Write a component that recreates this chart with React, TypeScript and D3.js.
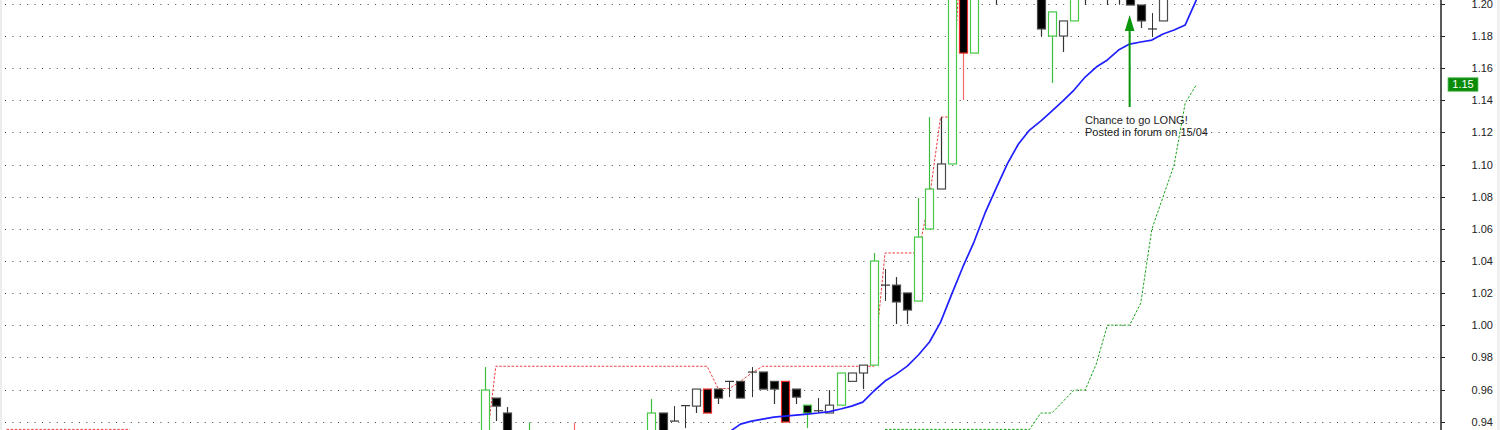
import React from "react";
import * as d3 from "d3";

// candles visible in the window: [bar, open, high, low, close, edge colour]
// bar numbers count from the tall green bar at the left (bar 0)
const candles: [number, number, number, number, number, string][] = [
  [0, 0.925, 0.974, 0.92, 0.9597, "g"],
  [1, 0.9547, 0.9547, 0.9404, 0.9497, "k"],
  [2, 0.9454, 0.9491, 0.925, 0.93, "k"],
  [4, 0.928, 0.9395, 0.925, 0.934, "g"],
  [8, 0.934, 0.9392, 0.922, 0.926, "r"],
  [15, 0.93, 0.9541, 0.928, 0.9454, "g"],
  [16, 0.9454, 0.9454, 0.928, 0.93, "k"],
  [17, 0.9404, 0.9497, 0.9404, 0.9404, "k"],
  [18, 0.95, 0.95, 0.936, 0.95, "k"],
  [19, 0.9497, 0.9603, 0.9454, 0.9603, "k"],
  [20, 0.9603, 0.9603, 0.9454, 0.9454, "r"],
  [21, 0.9603, 0.9603, 0.951, 0.9547, "k"],
  [22, 0.9651, 0.9651, 0.9553, 0.9651, "k"],
  [23, 0.9651, 0.9651, 0.9547, 0.9547, "k"],
  [24, 0.9709, 0.974, 0.9553, 0.9709, "k"],
  [25, 0.9709, 0.9709, 0.9603, 0.9603, "k"],
  [26, 0.9651, 0.9651, 0.951, 0.9603, "k"],
  [27, 0.9651, 0.9651, 0.9398, 0.9398, "r"],
  [28, 0.9603, 0.9603, 0.951, 0.9553, "k"],
  [29, 0.9503, 0.9503, 0.936, 0.9454, "g"],
  [30, 0.9468, 0.9547, 0.9454, 0.9468, "k"],
  [31, 0.9454, 0.9597, 0.9454, 0.9503, "k"],
  [32, 0.9503, 0.9703, 0.9503, 0.9703, "g"],
  [33, 0.9651, 0.9703, 0.9651, 0.9703, "k"],
  [34, 0.9703, 0.9752, 0.9603, 0.9752, "k"],
  [35, 0.9752, 1.045, 0.9752, 1.04, "g"],
  [36, 1.025, 1.035, 1.0151, 1.025, "k"],
  [37, 1.025, 1.03, 1.0008, 1.0145, "k"],
  [38, 1.0201, 1.0201, 1.0008, 1.0095, "k"],
  [39, 1.0151, 1.0792, 1.0151, 1.0549, "g"],
  [40, 1.0599, 1.1296, 1.0599, 1.0848, "g"],
  [41, 1.0848, 1.1296, 1.0848, 1.1004, "k"],
  [42, 1.1004, 1.26, 1.1004, 1.235, "g"],
  [43, 1.23, 1.235, 1.1402, 1.1694, "r"],
  [44, 1.1694, 1.23, 1.1694, 1.225, "g"],
  [46, 1.215, 1.22, 1.1995, 1.21, "k"],
  [50, 1.215, 1.22, 1.18, 1.1844, "k"],
  [51, 1.18, 1.195, 1.1508, 1.195, "g"],
  [52, 1.18, 1.1894, 1.1701, 1.1894, "k"],
  [53, 1.1894, 1.215, 1.1894, 1.21, "g"],
  [54, 1.21, 1.22, 1.1993, 1.215, "k"],
  [56, 1.21, 1.22, 1.1993, 1.215, "k"],
  [57, 1.21, 1.22, 1.1995, 1.215, "k"],
  [58, 1.212, 1.215, 1.1993, 1.1993, "k"],
  [59, 1.1993, 1.1993, 1.185, 1.1894, "k"],
  [60, 1.1844, 1.1943, 1.1794, 1.1844, "k"],
  [61, 1.1894, 1.21, 1.1894, 1.205, "k"],
];

// blue moving average, from bar 22 on
const maStart = 22;
const maValues = [
  0.9336, 0.9385, 0.9404, 0.9416, 0.9429, 0.9435, 0.9441, 0.9447, 0.9454,
  0.9463, 0.9479, 0.9497, 0.9522, 0.9591, 0.9653, 0.9696, 0.9746, 0.9815,
  0.9896, 1.002, 1.0194, 1.0363, 1.0518, 1.0699, 1.0854, 1.1004, 1.1128,
  1.1215, 1.1271, 1.1333, 1.1396, 1.1464, 1.1545, 1.1607, 1.1651, 1.1713,
  1.175, 1.1763, 1.1775, 1.1813, 1.1838, 1.1869, 1.2025,
];

// red dotted stop (above price): [bar, value]
const shortStop: [number, number][] = [
  [-43, 0.9352], [-42, 0.9352], [-41, 0.9352], [-40, 0.9352], [-39, 0.9352],
  [-38, 0.9352], [-37, 0.9352], [-36, 0.9352], [-35, 0.9352], [-34, 0.9352],
  [-33, 0.9352], [-32, 0.9352], [-31, 0.93], [0, 0.917],
  [1, 0.9745], [5, 0.9745], [10, 0.9745], [15, 0.9745], [20, 0.9745],
  [21, 0.9606], [22, 0.9606], [23, 0.9651], [24, 0.9703], [25, 0.9745],
  [30, 0.9745], [35, 0.9745], [36, 1.045], [37, 1.045], [38, 1.045],
  [39, 1.045], [40, 1.0792], [41, 1.1296], [42, 1.1296], [43, 1.26],
];

// green dotted stop (below price), from bar 36 on
const longStart = 36;
const longStop = [
  0.9352, 0.9352, 0.9352, 0.9352, 0.9352, 0.9352, 0.9352, 0.9352, 0.9352,
  0.9352, 0.9352, 0.9352, 0.9352, 0.9352, 0.9454, 0.9454, 0.9525, 0.9597,
  0.9597, 0.9759, 1.0001, 1.0001, 1.0001, 1.0138, 1.0599, 1.0798, 1.0998,
  1.1384, 1.1496,
];

const yTicks = [
  0.94, 0.96, 0.98, 1.0, 1.02, 1.04, 1.06, 1.08, 1.1, 1.12, 1.14, 1.16, 1.18,
  1.2,
];
const lastLabel = 1.15;
const noteLines = ["Chance to go LONG!", "Posted in forum on 15/04"];
const noteBar = 58;

const W = 1500;
const H = 430;
const plotLeft = 5;
const axisX = 1441;
const font = "'Liberation Sans', Arial, sans-serif";

const edgeColour: Record<string, string> = {
  g: "#45c845",
  r: "#ee2a2a",
  k: "#4a4a4a",
};
const wickColour: Record<string, string> = {
  g: "#3cbc3c",
  r: "#f46a6a",
  k: "#333",
};

export default function App() {
  const x = d3.scaleLinear().domain([0, 61]).range([484.7, 1163]);
  const y = d3.scaleLinear().domain([0.94, 1.2]).range([421.7, 3.9]);

  const line = d3
    .line<[number, number]>()
    .x((d) => x(d[0]))
    .y((d) => y(d[1]));

  const maPts: [number, number][] = maValues.map((v, i) => [maStart + i, v]);
  const longPts: [number, number][] = longStop.map((v, i) => [longStart + i, v]);

  return (
    <div style={{ position: "absolute", left: 0, top: 0 }}>
      <svg width={W} height={H} style={{ display: "block", background: "#fff" }}>
        <defs>
          <clipPath id="plot">
            <rect x={plotLeft} y={0} width={axisX - plotLeft} height={H} />
          </clipPath>
        </defs>
        <rect x={0} y={0} width={2} height={H} fill="#ececec" />
        <rect x={1497} y={0} width={3} height={H} fill="#f0f0f0" />

        {/* dotted grid */}
        {yTicks.map((t) => (
          <line
            key={"g" + t}
            x1={plotLeft}
            x2={axisX - 2}
            y1={Math.round(y(t)) + 0.5}
            y2={Math.round(y(t)) + 0.5}
            stroke="#444"
            strokeWidth={1}
            strokeDasharray="1,6.4"
          />
        ))}

        <g clipPath="url(#plot)">
          <path
            d={line(shortStop) || ""}
            fill="none"
            stroke="#f03c3c"
            strokeWidth={1}
            strokeDasharray="2.5,1.6"
          />
          <path
            d={line(longPts) || ""}
            fill="none"
            stroke="#1aa31a"
            strokeWidth={1}
            strokeDasharray="2.5,1.6"
          />

          {candles.map(([bar, o, h, l, c, col]) => {
            const cx = Math.round(x(bar));
            const top = y(Math.max(o, c));
            const bot = y(Math.min(o, c));
            const doji = Math.abs(o - c) < 0.0003;
            const wx = cx + 0.5;
            if (doji) {
              return (
                <g key={bar}>
                  <line x1={wx} x2={wx} y1={y(h)} y2={y(l)} stroke="#333" strokeWidth={1} />
                  <line x1={cx - 4} x2={cx + 5} y1={y(o)} y2={y(o)} stroke="#333" strokeWidth={1.2} />
                </g>
              );
            }
            return (
              <g key={bar}>
                <line x1={wx} x2={wx} y1={y(h)} y2={top} stroke={wickColour[col]} strokeWidth={1.2} />
                <line x1={wx} x2={wx} y1={bot} y2={y(l)} stroke={wickColour[col]} strokeWidth={1.2} />
                <rect
                  x={cx - 3.5}
                  y={top}
                  width={8}
                  height={Math.max(1, bot - top)}
                  fill={c < o ? "#000" : "#fff"}
                  stroke={edgeColour[col]}
                  strokeWidth={1.2}
                />
              </g>
            );
          })}

          <path
            d={line(maPts) || ""}
            fill="none"
            stroke="#1f1fff"
            strokeWidth={1.7}
            strokeLinejoin="round"
          />
        </g>

        {/* annotation arrow */}
        <line
          x1={x(noteBar)}
          x2={x(noteBar)}
          y1={28}
          y2={107}
          stroke="#0a960a"
          strokeWidth={2}
        />
        <path
          d={`M${x(noteBar)},15 L${x(noteBar) - 4.8},31 L${x(noteBar) + 4.8},31 Z`}
          fill="#0a960a"
        />
        {noteLines.map((t, i) => (
          <text
            key={t}
            x={1085}
            y={124 + i * 12}
            fontFamily={font}
            fontSize={11}
            fill="#222"
          >
            {t}
          </text>
        ))}

        {/* price axis */}
        <line x1={axisX} x2={axisX} y1={0} y2={H} stroke="#222" strokeWidth={1.5} />
        {yTicks.map((t) => (
          <g key={"t" + t}>
            <line
              x1={axisX}
              x2={axisX + 4}
              y1={Math.round(y(t)) + 0.5}
              y2={Math.round(y(t)) + 0.5}
              stroke="#222"
            />
            <text
              x={1493}
              y={y(t) + 4}
              textAnchor="end"
              fontFamily={font}
              fontSize={11}
              fill="#222"
            >
              {t.toFixed(2)}
            </text>
          </g>
        ))}
        <rect
          x={1448}
          y={y(lastLabel) - 6.5}
          width={30}
          height={13.5}
          fill="#0a8c0a"
          stroke="#5fbf5f"
          strokeWidth={0.8}
        />
        <text
          x={1463}
          y={y(lastLabel) + 4}
          textAnchor="middle"
          fontFamily={font}
          fontSize={11}
          fill="#fff"
        >
          {lastLabel.toFixed(2)}
        </text>
      </svg>
    </div>
  );
}
